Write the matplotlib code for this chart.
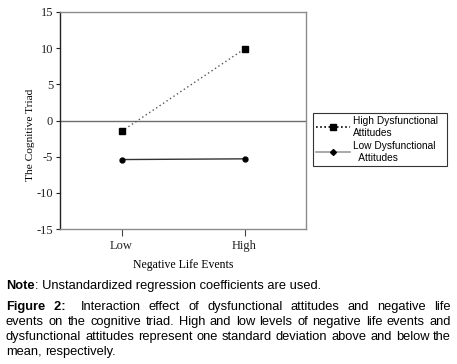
import matplotlib

matplotlib.use("Agg")
import matplotlib.pyplot as plt
from matplotlib.lines import Line2D

# data
levels = ["Low", "High"]
high_dys = [-1.5, 9.9]
low_dys = [-5.4, -5.3]
y_ticks = [-15, -10, -5, 0, 5, 10, 15]

SERIF = "Liberation Serif"
SANS = "Liberation Sans"
BORDER = "#8c8c8c"
plt.rcParams["axes.unicode_minus"] = False

fig = plt.figure(figsize=(4.57, 3.64), dpi=100)
ax = fig.add_axes([60 / 457, 1 - 229 / 364, 246 / 457, 217 / 364])

x = range(len(levels))
ax.plot(x, high_dys, color="#555555", linestyle=(0, (1, 2)), linewidth=1.0,
        marker="s", markersize=5, markerfacecolor="black", markeredgecolor="black")
ax.plot(x, low_dys, color="#333333", linestyle="-", linewidth=1.0,
        marker="o", markersize=3.5, markerfacecolor="black", markeredgecolor="black")
ax.axhline(0, color="#6e6e6e", linewidth=1.0, zorder=0)

ax.set_xlim(-0.5, 1.5)
ax.set_ylim(-15, 15)
ax.set_yticks(y_ticks)
ax.set_xticks(list(x))
ax.set_xticklabels(levels)

for side in ("top", "right", "bottom"):
    ax.spines[side].set_color(BORDER)
    ax.spines[side].set_linewidth(1.0)
ax.spines["left"].set_color("#222222")
ax.spines["left"].set_linewidth(1.0)

ax.tick_params(axis="y", direction="out", length=3, width=0.8, colors="#222222",
               labelsize=9, pad=2)
ax.tick_params(axis="x", direction="out", length=5, width=0.8, colors="#444444",
               labelcolor="#222222", labelsize=9, pad=3)
for lbl in ax.get_xticklabels() + ax.get_yticklabels():
    lbl.set_fontfamily(SERIF)

ax.set_ylabel("The Cognitive Triad", fontfamily=SERIF, fontsize=8.2)
ax.yaxis.set_label_coords(-0.10, 0.433)
ax.set_xlabel("Negative Life Events", fontfamily=SERIF, fontsize=8.5, labelpad=5)

# legend box drawn on the figure, to the right of the plot
handles = [
    Line2D([], [], color="black", linestyle=(0, (1, 1.5)), linewidth=1.2,
           marker="s", markersize=4),
    Line2D([], [], color="#999999", linestyle="-", linewidth=1.2,
           marker="D", markersize=3, markerfacecolor="black", markeredgecolor="black"),
]
leg = fig.legend(handles, ["High Dysfunctional  \nAttitudes", "Low Dysfunctional\n  Attitudes"],
                 loc="upper left", bbox_to_anchor=(313 / 457, 1 - 113 / 364),
                 prop={"family": SANS, "size": 7.3}, frameon=True, fancybox=False,
                 edgecolor="black", handlelength=3.3, handletextpad=0.35,
                 borderpad=0.3, labelspacing=0.35, borderaxespad=0)
leg.get_frame().set_linewidth(0.8)

FS = 9.3
fig.canvas.draw()
renderer = fig.canvas.get_renderer()

# caption below the chart
note_y = 1 - 286 / 364
t_note = fig.text(6 / 457, note_y, "Note", fontfamily=SANS, fontsize=FS,
                  fontweight="bold", va="center")
w_note = t_note.get_window_extent(renderer).width
fig.text((6 + w_note) / 457, note_y, ": Unstandardized regression coefficients are used.",
         fontfamily=SANS, fontsize=FS, va="center")

caption_lines = [
    "Interaction effect of dysfunctional attitudes and negative life",
    "events on the cognitive triad. High and low levels of negative life events and",
    "dysfunctional attitudes represent one standard deviation above and below the",
    "mean, respectively.",
]
left_px, right_px = 6, 451


def justify(words, y, x0, x1, last=False, bold=()):
    items = [fig.text(0, y, w, fontfamily=SANS, fontsize=FS, va="center",
                      fontweight=("bold" if i in bold else "normal"))
             for i, w in enumerate(words)]
    widths = [t.get_window_extent(renderer).width for t in items]
    if last or len(words) == 1:
        gap = 3.0
    else:
        gap = (x1 - x0 - sum(widths)) / (len(words) - 1)
    pos = x0
    for t, w in zip(items, widths):
        t.set_x(pos / 457)
        pos += w + gap


y0 = 307
justify(["Figure", "2:  "] + caption_lines[0].split(), 1 - y0 / 364, left_px, right_px,
        bold=(0, 1))
for i, line in enumerate(caption_lines[1:], start=1):
    justify(line.split(), 1 - (y0 + 15 * i) / 364, left_px, right_px,
            last=(i == len(caption_lines) - 1))

fig.savefig("out.png", dpi=100)
